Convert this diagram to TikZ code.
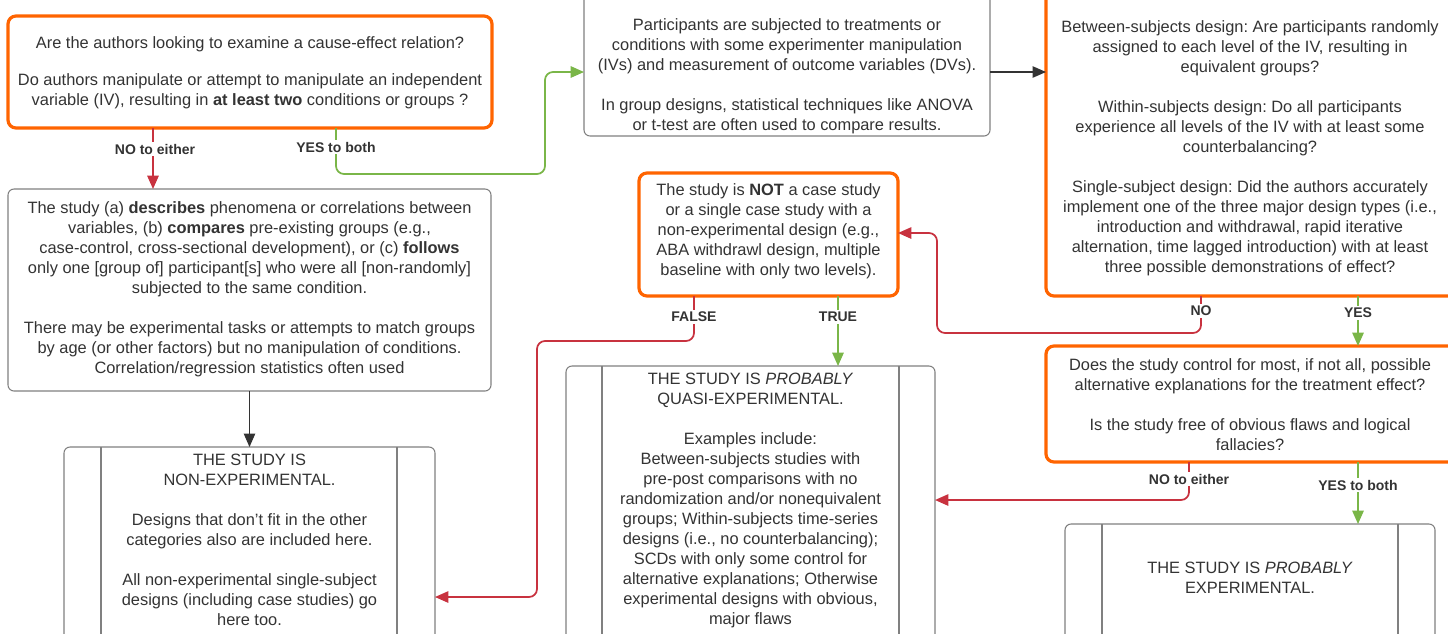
\documentclass[tikz,border=0pt]{standalone}
\usepackage{fontspec}
\setmainfont{Liberation Sans}
\usetikzlibrary{fit,arrows.meta}
\frenchspacing
\definecolor{qorange}{HTML}{FF6400}
\definecolor{nored}{HTML}{C8323F}
\definecolor{yesgreen}{HTML}{7AB648}
\definecolor{boxgray}{HTML}{808080}
\definecolor{txtgray}{HTML}{333333}
\tikzset{
  box/.style={draw=boxgray, line width=0.8pt, rounded corners=4.5pt, fill=white, inner sep=0pt, outer sep=0pt},
  qbox/.style={draw=qorange, line width=2.4pt, rounded corners=6pt, fill=white, inner sep=0pt, outer sep=0pt},
  txt/.style={font=\fontsize{12.3}{15}\selectfont, text=txtgray, align=center, inner sep=0pt},
  lbl/.style={font=\fontsize{10.5}{12}\selectfont\bfseries, text=txtgray, fill=white, inner sep=1.5pt},
  conn/.style={line width=1.3pt, rounded corners=6pt, -{Triangle[length=10pt,width=8.5pt]}},
  noline/.style={conn, draw=nored},
  yesline/.style={conn, draw=yesgreen},
  plainline/.style={conn, draw=txtgray, line width=0.9pt},
  divider/.style={draw=boxgray, line width=0.8pt}
}
\begin{document}
\begin{tikzpicture}[x=0.75pt,y=-0.75pt]
\useasboundingbox (0,0) rectangle (1448,633);
\fill[white] (0,0) rectangle (1448,633);
\clip (0,0) rectangle (1448,633);

% boxes
\node[qbox, fit={(8,16) (492,128)}] (A) {};
\node[box, fit={(584,-30) (990,136)}] (B) {};
\node[qbox, fit={(1046,-30) (1462,296)}] (C) {};
\node[qbox, fit={(639,173) (898,296)}] (D) {};
\node[qbox, fit={(1046,346) (1462,462)}] (E) {};
\node[box, fit={(8,189) (491,391)}] (I) {};
\node[box, fit={(64,447) (435,670)}] (F) {};
\node[box, fit={(566,366) (935,670)}] (G) {};
\node[box, fit={(1065,524) (1435,670)}] (H) {};

% process-box dividers
\draw[divider] (101,0 |- F.north) -- (101,0 |- F.south);
\draw[divider] (397,0 |- F.north) -- (397,0 |- F.south);
\draw[divider] (602,0 |- G.north) -- (602,0 |- G.south);
\draw[divider] (899,0 |- G.north) -- (899,0 |- G.south);
\draw[divider] (1102,0 |- H.north) -- (1102,0 |- H.south);
\draw[divider] (1398,0 |- H.north) -- (1398,0 |- H.south);

% texts
\node[txt] (At) at (250,72.5) {Are the authors looking to examine a cause-effect relation?\\[12.75pt]
Do authors manipulate or attempt to manipulate an independent\\
variable (IV), resulting in \textbf{at least two} conditions or groups ?};

\node[txt] (Bt) at (787,76) {Participants are subjected to treatments or\\
conditions with some experimenter manipulation\\
(IVs) and measurement of outcome variables (DVs).\\[15pt]
In group designs, statistical techniques like ANOVA\\
or t-test are often used to compare results.};

\node[txt] (Ct) at (1250,148) {Between-subjects design: Are participants randomly\\
assigned to each level of the IV, resulting in\\
equivalent groups?\\[15pt]
Within-subjects design: Do all participants\\
experience all levels of the IV with at least some\\
counterbalancing?\\[15pt]
Single-subject design: Did the authors accurately\\
implement one of the three major design types (i.e.,\\
introduction and withdrawal, rapid iterative\\
alternation, time lagged introduction) with at least\\
three possible demonstrations of effect?};

\node[txt] (Dt) at (768.5,231.5) {The study is \textbf{NOT} a case study\\
or a single case study with a\\
non-experimental design (e.g.,\\
ABA withdrawl design, multiple\\
baseline with only two levels).};

\node[txt] (Et) at (1250,405) {Does the study control for most, if not all, possible\\
alternative explanations for the treatment effect?\\[15pt]
Is the study free of obvious flaws and logical\\
fallacies?};

\node[txt] (It) at (249.5,289) {The study (a) \textbf{describes} phenomena or correlations between\\
variables, (b) \textbf{compares} pre-existing groups (e.g.,\\
case-control, cross-sectional development), or (c) \textbf{follows}\\
only one [group of] participant[s] who were all [non-randomly]\\
subjected to the same condition.\\[15pt]
There may be experimental tasks or attempts to match groups\\
by age (or other factors) but no manipulation of conditions.\\
Correlation/regression statistics often used};

\node[txt] (Ft) at (249.5,540) {THE STUDY IS\\
NON-EXPERIMENTAL.\\[15pt]
Designs that don’t fit in the other\\
categories also are included here.\\[15pt]
All non-experimental single-subject\\
designs (including case studies) go\\
here too.};

\node[txt] (Gt) at (750.5,500) {THE STUDY IS \textit{PROBABLY}\\
QUASI-EXPERIMENTAL.\\[15pt]
Examples include:\\
Between-subjects studies with\\
pre-post comparisons with no\\
randomization and/or nonequivalent\\
groups; Within-subjects time-series\\
designs (i.e., no counterbalancing);\\
SCDs with only some control for\\
alternative explanations; Otherwise\\
experimental designs with obvious,\\
major flaws};

\node[txt] (Ht) at (1250,578) {THE STUDY IS \textit{PROBABLY}\\
EXPERIMENTAL.};

% connectors
\draw[noline] (153,0 |- A.south) -- (153,0 |- I.north);
\draw[yesline] (336,0 |- A.south) -- (336,174) -- (545,174) -- (545,72) -- (B.west |- 0,72);
\draw[plainline] (B.east |- 0,72) -- (C.west |- 0,72);
\draw[noline] (1201,0 |- C.south) -- (1201,333) -- (937,333) -- (937,233) -- (D.east |- 0,233);
\draw[yesline] (1358,0 |- C.south) -- (1358,0 |- E.north);
\draw[noline] (694,0 |- D.south) -- (694,341) -- (537,341) -- (537,597) -- (F.east |- 0,597);
\draw[yesline] (838,0 |- D.south) -- (838,0 |- G.north);
\draw[noline] (1189,0 |- E.south) -- (1189,500) -- (G.east |- 0,500);
\draw[yesline] (1358,0 |- E.south) -- (1358,0 |- H.north);
\draw[plainline] (249.5,0 |- I.south) -- (249.5,0 |- F.north);

% labels
\node[lbl] (l1) at (155,149) {NO to either};
\node[lbl] (l2) at (336,147) {YES to both};
\node[lbl] (l3) at (1201,311) {NO};
\node[lbl] (l4) at (1358,313) {YES};
\node[lbl] (l5) at (694,317) {FALSE};
\node[lbl] (l6) at (838,317) {TRUE};
\node[lbl] (l7) at (1189,479) {NO to either};
\node[lbl] (l8) at (1358,485) {YES to both};
\end{tikzpicture}
\end{document}
